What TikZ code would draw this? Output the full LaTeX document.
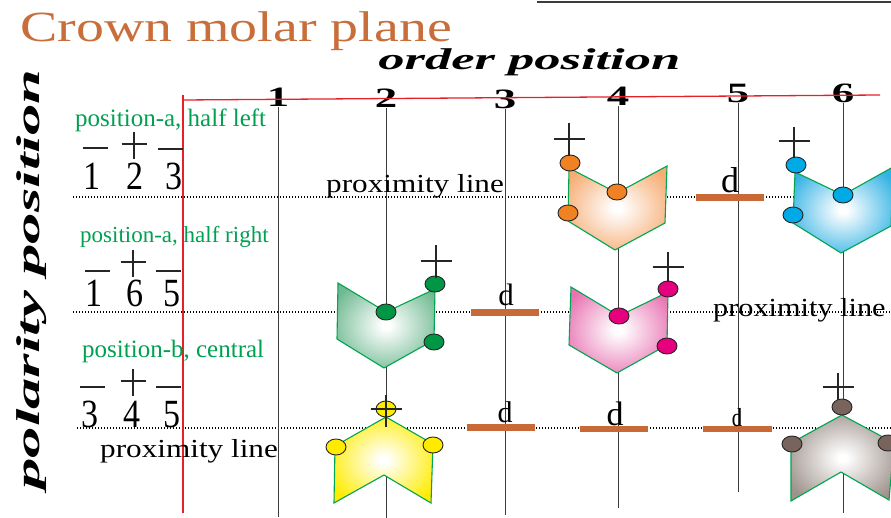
\documentclass[tikz,border=0pt]{standalone}
\usepackage{fontspec}
\setmainfont{Liberation Serif}
\usetikzlibrary{positioning}

\definecolor{titlebrown}{RGB}{200,110,58}
\definecolor{labelgreen}{RGB}{0,160,80}
\definecolor{edgegreen}{RGB}{0,165,80}
\definecolor{axisred}{RGB}{232,30,40}
\definecolor{barbrown}{RGB}{200,105,55}
\definecolor{linegray}{RGB}{60,60,60}
\definecolor{greenbead}{RGB}{0,150,70}
\definecolor{yellowbead}{RGB}{255,235,0}
\definecolor{orangebead}{RGB}{240,130,35}
\definecolor{bluebead}{RGB}{0,170,230}
\definecolor{pinkbead}{RGB}{230,0,125}
\definecolor{graybead}{RGB}{120,100,92}
\definecolor{greenfill}{RGB}{110,185,145}
\definecolor{yellowfill}{RGB}{255,236,0}
\definecolor{orangefill}{RGB}{246,172,115}
\definecolor{bluefill}{RGB}{50,178,228}
\definecolor{pinkfill}{RGB}{232,115,178}
\definecolor{grayfill}{RGB}{158,146,140}

\makeatletter
\pgfdeclareradialshading[tikz@radial@outer]{toothglow}{\pgfpoint{0bp}{0bp}}{color(0bp)=(white);color(2bp)=(white);color(30bp)=(tikz@radial@outer);color(50bp)=(tikz@radial@outer)}
\makeatother

\begin{document}
\begin{tikzpicture}[
  x=1pt, y=-1pt,
  every node/.style={inner sep=0pt},
  rowlabel/.style={text=labelgreen, font=\fontsize{#1}{#1}\selectfont, anchor=base west},
  digit/.style={font=\fontsize{40}{44}\selectfont, xscale=0.85, anchor=base},
  colnum/.style={font=\fontsize{28}{30}\selectfont\bfseries, xscale=1.6, anchor=base},
  proxlabel/.style={font=\fontsize{26}{30}\selectfont, xscale=1.2, anchor=base west},
  dlabel/.style={font=\fontsize{#1}{#1}\selectfont, anchor=base},
  gapbar/.style={fill=barbrown},
  proxline/.style={line width=1.2pt, dash pattern=on 1.2pt off 1.8pt},
  colline/.style={draw=linegray, line width=1pt},
  axis/.style={draw=axisred, line width=1.3pt},
  tooth/.style={draw=edgegreen, line width=1.1pt, outer color=#1, shading=toothglow},
  bead/.style={fill=#1, draw=black!85, line width=0.9pt},
  signline/.style={draw=black!85, line width=1.2pt}
]
\useasboundingbox (0,0) rectangle (891,518);

\draw[linegray, line width=2pt] (537,2) -- (891,2);
\node[text=titlebrown, font=\fontsize{43}{46}\selectfont, xscale=1.3, anchor=base west] (title) at (20,42) {Crown molar plane};
\node[font=\fontsize{30}{34}\selectfont\bfseries\itshape, xscale=1.75, anchor=base west] (order) at (378,70) {order position};
\node[font=\fontsize{33}{36}\selectfont\bfseries\itshape, rotate=90, xscale=1.9, anchor=base west] (polarity) at (39,490) {polarity position};

\draw[proxline] (73,197) -- (891,197);
\draw[proxline] (73,312) -- (891,312);
\draw[proxline] (77,428) -- (891,428);

\node[colnum] (n1) at (278,107) {1};
\node[colnum] (n2) at (386,108) {2};
\node[colnum] (n3) at (505,109) {3};
\node[colnum] (n4) at (618,106) {4};
\node[colnum] (n5) at (738,103) {5};
\node[colnum] (n6) at (843,103) {6};
\coordinate (b1) at (278,517);
\coordinate (b2) at (386,518);
\coordinate (b3) at (505,515);
\coordinate (b4) at (618,508);
\coordinate (b5) at (738,492);
\coordinate (b6) at (843,513);
\foreach \i in {1,...,6}
  \draw[colline] (n\i.south) -- (b\i);

\coordinate (origin) at (183,100);
\coordinate (xend) at (880,95);
\coordinate (ytop) at (183,95);
\coordinate (yend) at (183,513);
\draw[axis] (origin) -- (xend);
\draw[axis] (ytop) -- (yend);

\node[rowlabel=25] (rowA) at (75,127) {position-a, half left};
\node[rowlabel=23] (rowB) at (80,243) {position-a, half right};
\node[rowlabel=25] (rowC) at (82,358) {position-b, central};

\node[digit] (r1a) at (92,190) {1};
\node[digit] (r1b) at (135,190) {2};
\node[digit] (r1c) at (174,190) {3};
\node[digit] (r2a) at (94,307) {1};
\node[digit] (r2b) at (135,307) {6};
\node[digit] (r2c) at (172,307) {5};
\node[digit] (r3a) at (90,427) {3};
\node[digit] (r3b) at (132,427) {4};
\node[digit] (r3c) at (172,427) {5};
\foreach \x/\y in {83/148,158/149,85/271,156/271,80/387,156/387}
  \draw[signline] (\x,\y) -- ++(25,0);
\foreach \x/\y in {134/144,133/262,133/381} {
  \draw[signline] (\x-12.5,\y) -- (\x+12.5,\y);
  \draw[signline] (\x,\y-12) -- (\x,\y+15);
}

\node[proxlabel] (prox1) at (326,193) {proximity line};
\node[proxlabel, xscale=0.97] (prox2) at (713,317) {proximity line};
\node[proxlabel] (prox3) at (100,457) {proximity line};

\shadedraw[tooth=orangefill] (569,168) -- (617,193) -- (667,166) -- (665,223) -- (615,250) -- (568,221) -- cycle;
\shadedraw[tooth=bluefill] (795,172) -- (843,195) -- (893,167) -- (891,226) -- (841,253) -- (793,223) -- cycle;
\shadedraw[tooth=greenfill] (338,283) -- (386,312) -- (435,289) -- (434,340) -- (384,368) -- (337,339) -- cycle;
\shadedraw[tooth=pinkfill] (571,287) -- (619,316) -- (668,292) -- (667,345) -- (617,373) -- (569,345) -- cycle;
\shadedraw[tooth=yellowfill] (386,417) -- (433,444) -- (431,503) -- (384,475) -- (334,503) -- (335,446) -- cycle;
\shadedraw[tooth=grayfill] (842,415) -- (894,443) -- (889,500) -- (841,472) -- (791,501) -- (791,443) -- cycle;

\foreach \c/\x/\y in {orangebead/570/163, orangebead/617/192, orangebead/568/213,
                      bluebead/796/165, bluebead/843/195, bluebead/793/215,
                      greenbead/386/312, greenbead/435/284, greenbead/434/342,
                      pinkbead/668/289, pinkbead/619/316, pinkbead/667/346,
                      yellowbead/386/409, yellowbead/336/447, yellowbead/433/445,
                      graybead/842/407, graybead/792/444, graybead/888/443}
  \filldraw[bead=\c] (\x,\y) ellipse [x radius=10pt, y radius=8pt];
\foreach \x/\y/\a/\b in {436/261/245/278, 569/139/123/156, 794/141/127/158,
                         668/267/252/282, 386/409/395/427, 838/387/373/400} {
  \draw[signline] (\x-15.5,\y) -- (\x+15.5,\y);
  \draw[signline] (\x,\a) -- (\x,\b);
}

\fill[gapbar] (696,194) rectangle (764,201);
\fill[gapbar] (471,309) rectangle (539,316);
\fill[gapbar] (467,424) rectangle (535,431);
\fill[gapbar] (580,426) rectangle (648,432);
\fill[gapbar] (703,426) rectangle (772,432);
\node[dlabel=36] (d1) at (730,193) {d};
\node[dlabel=31] (d2) at (506,306) {d};
\node[dlabel=30] (d3) at (505,422) {d};
\node[dlabel=34] (d4) at (615,425) {d};
\node[dlabel=26, xscale=0.8] (d5) at (737,426) {d};
\end{tikzpicture}
\end{document}
